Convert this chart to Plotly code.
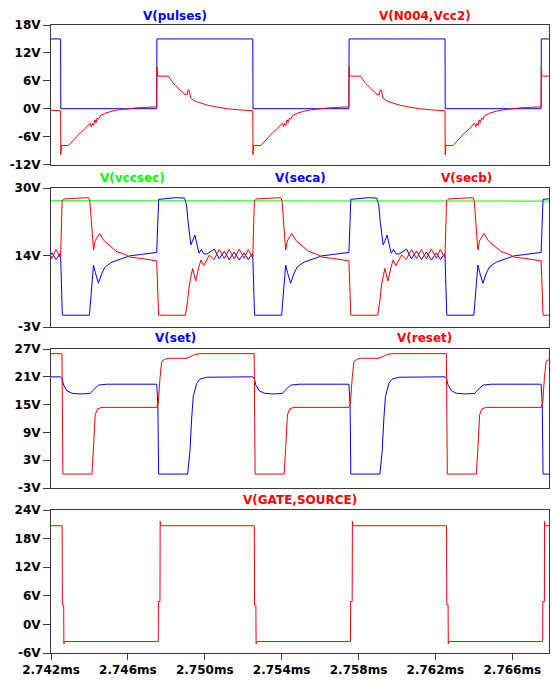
import plotly.graph_objects as go

# ---------------- data ----------------
# rising edges of V(pulses), ms; every trace repeats with a 10 us period
PERIOD_STARTS_MS = [2.7375, 2.7475, 2.7575, 2.7675]
X_RANGE = [2.742, 2.76791]
X_TICKS = [2.742, 2.746, 2.750, 2.754, 2.758, 2.762, 2.766]
X_TICK_TEXT = ["2.742ms", "2.746ms", "2.750ms", "2.754ms", "2.758ms", "2.762ms", "2.766ms"]

# one period of each trace: (offset in us from rising edge, volts)
PULSES = [(0.0, 0.0), (0.01, 15.0), (5.0, 15.0), (5.01, 0.0), (10.0, 0.0)]

N004_VCC2 = [(0.0, 0.4), (0.01, 9.0), (0.04, 7.0), (0.6, 7.0), (0.86, 5.5), (1.2, 4.1),
             (1.46, 3.1), (1.58, 3.0), (1.64, 4.1), (1.7, 3.8), (1.77, 2.3), (2.0, 1.6),
             (2.25, 1.2), (2.6, 0.8), (2.94, 0.5), (3.3, 0.2), (3.63, 0.0), (4.3, -0.25),
             (5.0, -0.45), (5.01, -9.9), (5.04, -7.9), (5.42, -7.9), (5.6, -7.1), (5.85, -6.0),
             (6.02, -5.2), (6.3, -4.2), (6.54, -3.1), (6.6, -3.9), (6.66, -3.2), (6.72, -3.6),
             (6.78, -2.4), (6.84, -3.0), (6.9, -2.0), (6.97, -2.3), (7.06, -1.5), (7.3, -1.0),
             (7.6, -0.6), (8.0, -0.25), (8.5, 0.0), (9.0, 0.2), (9.5, 0.3), (10.0, 0.4)]

VCCSEC = [(0.0, 27.0), (1.5, 27.0), (2.5, 26.85), (5.0, 26.85), (5.1, 27.0), (6.5, 27.0),
          (7.5, 26.85), (10.0, 26.85)]

SECA = [(0.0, 14.7), (0.1, 27.3), (0.6, 27.5), (1.0, 27.7), (1.45, 27.6), (1.55, 26.0),
        (1.63, 22.0), (1.7, 19.5), (1.78, 16.5), (1.87, 17.5), (1.99, 18.8), (2.1, 16.5),
        (2.2, 14.5), (2.32, 15.4), (2.45, 14.4), (2.6, 14.3), (2.78, 14.9), (3.0, 15.5),
        (3.25, 13.2), (3.52, 15.0), (3.77, 13.0), (4.03, 14.8), (4.29, 12.9), (4.55, 14.6),
        (4.76, 13.0), (4.97, 14.4), (5.0, 14.0), (5.09, -0.2), (6.5, -0.2), (6.6, 5.0),
        (6.71, 11.7), (6.8, 10.0), (6.97, 7.4), (7.15, 9.8), (7.32, 11.3), (7.67, 12.4),
        (8.19, 13.3), (8.6, 13.9), (9.14, 14.2), (9.6, 14.5), (10.0, 14.7)]

SECB = [(0.0, 12.7), (0.1, -0.2), (1.5, -0.2), (1.6, 3.0), (1.7, 7.0), (1.87, 10.9),
        (2.03, 7.9), (2.18, 11.0), (2.3, 12.9), (2.45, 11.6), (2.74, 14.1), (2.98, 13.0),
        (3.25, 15.4), (3.52, 13.2), (3.77, 15.4), (4.03, 13.2), (4.29, 15.5), (4.55, 13.3),
        (4.76, 15.4), (4.97, 13.6), (5.0, 13.8), (5.08, 27.0), (5.2, 27.4), (6.0, 27.6),
        (6.45, 27.7), (6.52, 27.0), (6.62, 20.0), (6.71, 15.3), (6.8, 17.5), (7.03, 19.2),
        (7.25, 17.5), (7.49, 16.5), (7.92, 14.9), (8.36, 14.2), (8.6, 13.6), (9.14, 13.3),
        (9.6, 13.0), (10.0, 12.7)]

SET = [(0.0, 19.4), (0.06, 15.0), (0.1, 0.0), (1.61, 0.0), (1.73, 4.9), (1.82, 12.1),
       (1.9, 16.7), (2.08, 19.6), (2.25, 20.5), (2.6, 20.9), (5.0, 21.0), (5.07, 20.7),
       (5.16, 19.2), (5.33, 18.0), (5.59, 17.45), (6.02, 17.3), (6.54, 17.4), (6.71, 18.2),
       (6.97, 19.2), (7.4, 19.4), (10.0, 19.4)]

RESET = [(0.0, 14.4), (0.08, 15.3), (0.17, 20.7), (0.26, 24.3), (0.43, 24.8), (0.6, 25.0),
         (1.56, 25.0), (1.73, 25.3), (1.99, 25.8), (2.25, 26.0), (5.0, 26.0), (5.07, 26.0),
         (5.12, 0.0), (6.63, 0.0), (6.71, 5.6), (6.8, 12.8), (6.92, 14.1), (7.15, 14.4),
         (10.0, 14.4)]

GATE_SOURCE = [(0.0, -3.6), (0.08, -3.6), (0.09, 4.8), (0.17, 4.8), (0.18, 21.6), (0.21, 20.7),
               (5.0, 20.7), (5.08, 20.7), (5.09, 4.1), (5.16, 4.1), (5.17, -4.1), (5.2, -3.6),
               (10.0, -3.6)]

Y1_TICKS = [-12, -6, 0, 6, 12, 18]
Y1_TEXT = ["-12V", "-6V", "0V", "6V", "12V", "18V"]
Y2_TICKS = [-3, 14, 30]
Y2_TEXT = ["-3V", "14V", "30V"]
Y3_TICKS = [-3, 3, 9, 15, 21, 27]
Y3_TEXT = ["-3V", "3V", "9V", "15V", "21V", "27V"]
Y4_TICKS = [-6, 0, 6, 12, 18, 24]
Y4_TEXT = ["-6V", "0V", "6V", "12V", "18V", "24V"]

# ---------------- figure ----------------
W, H = 553, 680
ML, MR, MT, MB = 50.5, 3.5, 25, 27
PW, PH = W - ML - MR, H - MT - MB
BLUE, RED, GREEN = "#0000FF", "#FF0000", "#00FF00"
FRAME = "#3a3a3a"
FONT = dict(family="DejaVu Sans", size=12, color="black", weight="bold")


def tile(template):
    xs, ys = [], []
    for s in PERIOD_STARTS_MS:
        for t, v in template:
            xs.append(s + t / 1000.0)
            ys.append(v)
    return xs, ys


def fy(py):
    return 1 - (py - MT) / PH


def fx(px):
    return (px - ML) / PW


fig = go.Figure()
panels = [
    (1, [(PULSES, BLUE), (N004_VCC2, RED)]),
    (2, [(VCCSEC, GREEN), (SECA, BLUE), (SECB, RED)]),
    (3, [(SET, BLUE), (RESET, RED)]),
    (4, [(GATE_SOURCE, RED)]),
]
for row, traces in panels:
    for tpl, col in traces:
        xs, ys = tile(tpl)
        fig.add_trace(go.Scatter(x=xs, y=ys, mode="lines",
                                 line=dict(color=col, width=1),
                                 xaxis="x" if row == 1 else f"x{row}",
                                 yaxis="y" if row == 1 else f"y{row}",
                                 showlegend=False, hoverinfo="skip"))

ydoms = [[fy(164.5), fy(25)], [fy(327), fy(188)], [fy(488), fy(349)], [fy(653), fy(510)]]
yspecs = [(Y1_TICKS, Y1_TEXT, [-12, 18]), (Y2_TICKS, Y2_TEXT, [-3, 30]),
          (Y3_TICKS, Y3_TEXT, [-3, 27]), (Y4_TICKS, Y4_TEXT, [-6, 24])]

layout = dict(width=W, height=H, margin=dict(l=ML, r=MR, t=MT, b=MB, autoexpand=False),
              paper_bgcolor="white", plot_bgcolor="white", showlegend=False)
for i in range(4):
    sfx = "" if i == 0 else str(i + 1)
    bottom = i == 3
    layout["xaxis" + sfx] = dict(
        domain=[0, 1], range=X_RANGE, anchor="y" + sfx, automargin=False,
        showline=True, linecolor=FRAME, linewidth=1, mirror=True,
        showgrid=False, zeroline=False,
        tickvals=X_TICKS if bottom else [], ticktext=X_TICK_TEXT if bottom else [],
        ticks="outside" if bottom else "", ticklen=6, tickcolor=FRAME,
        showticklabels=bottom, tickfont=FONT,
    )
    tv, tt, rg = yspecs[i]
    layout["yaxis" + sfx] = dict(
        domain=[max(0, ydoms[i][0]), min(1, ydoms[i][1])], range=rg, anchor="x" + sfx,
        automargin=False,
        showline=True, linecolor=FRAME, linewidth=1, mirror=True,
        showgrid=False, zeroline=False,
        tickvals=tv, ticktext=tt, ticks="outside", ticklen=7, tickcolor=FRAME,
        tickfont=FONT,
    )
fig.update_layout(**layout)

titles = [
    ("V(pulses)", BLUE, 175, 16), ("V(N004,Vcc2)", RED, 425, 16),
    ("V(vccsec)", GREEN, 132, 178), ("V(seca)", BLUE, 300, 178), ("V(secb)", RED, 467, 178),
    ("V(set)", BLUE, 175, 338), ("V(reset)", RED, 425, 338),
    ("V(GATE,SOURCE)", RED, 300, 500),
]
for text, col, xp, yp in titles:
    fig.add_annotation(text=text, x=fx(xp), y=fy(yp), xref="paper", yref="paper",
                       xanchor="center", yanchor="middle", showarrow=False,
                       font=dict(family="DejaVu Sans", size=12, color=col, weight="bold"))

fig.write_html("out.html", config={"displayModeBar": False})
